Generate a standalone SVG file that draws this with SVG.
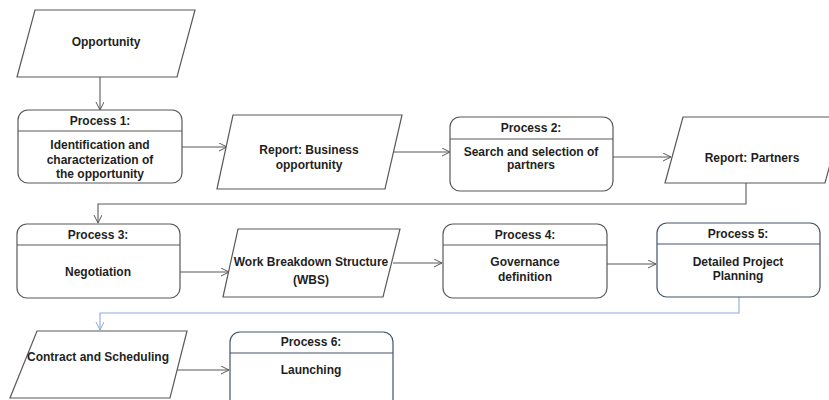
<svg xmlns="http://www.w3.org/2000/svg" width="829" height="400" viewBox="0 0 829 400">
<defs>
<marker id="arr" markerWidth="10" markerHeight="10" refX="8" refY="4" orient="auto" markerUnits="userSpaceOnUse">
<path d="M0,0 L8,4 L0,8" fill="none" stroke="#595959" stroke-width="1"/>
</marker>
<marker id="arrb" markerWidth="10" markerHeight="10" refX="8" refY="4" orient="auto" markerUnits="userSpaceOnUse">
<path d="M0,0 L8,4 L0,8" fill="none" stroke="#8eaadb" stroke-width="1"/>
</marker>
</defs>
<style>
.sh{fill:#ffffff;stroke:#595959;stroke-width:1.2}
.shb{fill:#ffffff;stroke:#44546a;stroke-width:1.2}
.dv{stroke:#595959;stroke-width:1.2}
.dvb{stroke:#44546a;stroke-width:1.2}
.t{font-family:"Liberation Sans",Arial,sans-serif;font-weight:bold;font-size:12px;fill:#1f1f1f;text-anchor:middle}
.c{fill:none;stroke:#595959;stroke-width:1.1;marker-end:url(#arr)}
.cb{fill:none;stroke:#8eaadb;stroke-width:1.1;marker-end:url(#arrb)}
</style>
<rect width="829" height="400" fill="#ffffff"/>
<g id="connectors">
<path class="c" d="M100,77 L100,110"/>
<path class="c" d="M182,147 L227,147"/>
<path class="c" d="M393,152 L450,152"/>
<path class="c" d="M613,157 L671,157"/>
<path class="c" d="M746,183 L746,204 L98,204 L98,223"/>
<path class="c" d="M180,272 L229,272"/>
<path class="c" d="M393,263 L442,263"/>
<path class="c" d="M607,264 L656,264"/>
<path class="cb" d="M739,297 L739,313 L100,313 L100,330"/>
<path class="c" d="M177,370 L229,370"/>
</g>
<g id="opportunity">
<polygon class="sh" points="35,10 195,10 177,77 17,77"/>
<text class="t" x="106" y="46">Opportunity</text>
</g>
<g id="process1">
<rect class="sh" x="18" y="110" width="164" height="73" rx="10"/>
<line class="dv" x1="18" y1="131" x2="182" y2="131"/>
<text class="t" x="100" y="125">Process 1:</text>
<text class="t" x="100" y="149">Identification and</text>
<text class="t" x="100" y="164">characterization of</text>
<text class="t" x="100" y="178">the opportunity</text>
</g>
<g id="report-business">
<polygon class="sh" points="233,115 402,115 385,189 217,189"/>
<text class="t" x="309" y="154">Report: Business</text>
<text class="t" x="309" y="169">opportunity</text>
</g>
<g id="process2">
<rect class="sh" x="450" y="117" width="163" height="74" rx="10"/>
<line class="dv" x1="450" y1="139" x2="613" y2="139"/>
<text class="t" x="531" y="132">Process 2:</text>
<text class="t" x="531" y="156">Search and selection of</text>
<text class="t" x="531" y="169">partners</text>
</g>
<g id="report-partners">
<polygon class="sh" points="683,117 843,117 825,183 665,183"/>
<text class="t" x="752" y="162">Report: Partners</text>
</g>
<g id="process3">
<rect class="sh" x="17" y="224" width="163" height="74" rx="10"/>
<line class="dv" x1="17" y1="245" x2="180" y2="245"/>
<text class="t" x="98" y="239">Process 3:</text>
<text class="t" x="98" y="276">Negotiation</text>
</g>
<g id="wbs">
<polygon class="sh" points="238,229 400,229 383,297 223,297"/>
<text class="t" x="311" y="266">Work Breakdown Structure</text>
<text class="t" x="311" y="284">(WBS)</text>
</g>
<g id="process4">
<rect class="sh" x="443" y="224" width="164" height="74" rx="10"/>
<line class="dv" x1="443" y1="245" x2="607" y2="245"/>
<text class="t" x="525" y="239">Process 4:</text>
<text class="t" x="525" y="266">Governance</text>
<text class="t" x="525" y="281">definition</text>
</g>
<g id="process5">
<rect class="shb" x="657" y="223" width="163" height="74" rx="10"/>
<line class="dvb" x1="657" y1="244" x2="820" y2="244"/>
<text class="t" x="738" y="238">Process 5:</text>
<text class="t" x="738" y="266">Detailed Project</text>
<text class="t" x="738" y="280">Planning</text>
</g>
<g id="contract">
<polygon class="sh" points="37,331 187,331 170,398 10,398"/>
<text class="t" x="98" y="361">Contract and Scheduling</text>
</g>
<g id="process6">
<rect class="shb" x="230" y="332" width="163" height="80" rx="10"/>
<line class="dvb" x1="230" y1="353" x2="393" y2="353"/>
<text class="t" x="311" y="346">Process 6:</text>
<text class="t" x="311" y="374">Launching</text>
</g>
</svg>
